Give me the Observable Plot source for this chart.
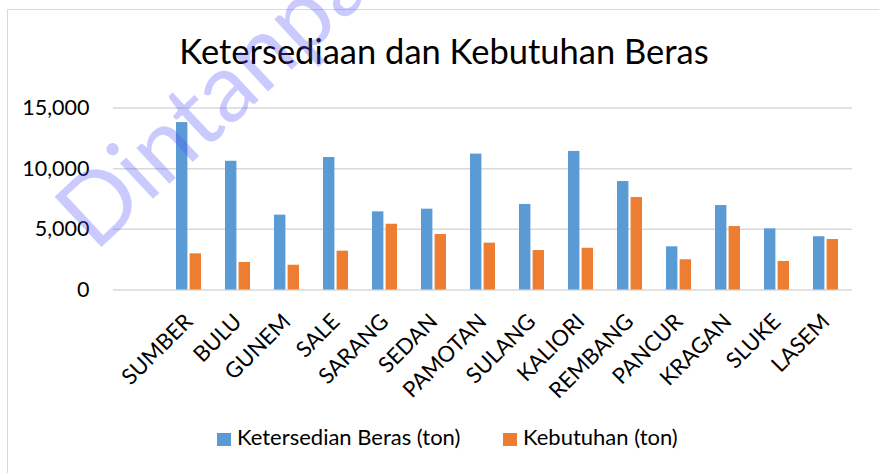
<!DOCTYPE html>
<html>
<head>
<meta charset="utf-8">
<script src="https://cdn.jsdelivr.net/npm/d3@7"></script>
<script src="https://cdn.jsdelivr.net/npm/@observablehq/plot@0.6"></script>
<style>
  html, body { margin: 0; padding: 0; background: #fff; }
  #wrap { position: relative; width: 879px; height: 473px; overflow: hidden; font-family: Lato, "Open Sans", sans-serif; }
  #frame { position: absolute; left: 7px; top: 9px; width: 900px; height: 500px; border-top: 1.5px solid #d9d9d9; border-left: 1.5px solid #d9d9d9; }
  #title { position: absolute; left: 0; width: 888px; top: 34.4px; text-align: center; font-size: 34.5px; line-height: 34.5px; color: #000; white-space: nowrap; }
  #chart { position: absolute; left: 0; top: 90px; }
  .leg { position: absolute; top: 425.5px; font-size: 22px; line-height: 22px; color: #000; white-space: nowrap; }
  .sw { position: absolute; top: 432.5px; width: 14px; height: 13px; }
  #wm { position: absolute; left: 0; top: 0; pointer-events: none; }
</style>
</head>
<body>
<div id="wrap">
  <div id="frame"></div>
  <div id="title"></div>
  <div id="chart"></div>
  <div class="sw" id="sw1"></div><div class="leg" id="lg1"></div>
  <div class="sw" id="sw2"></div><div class="leg" id="lg2"></div>
  <svg id="wm" width="879" height="473"><text id="wmtext" font-family="Lato, sans-serif" font-size="96" fill="rgb(80,80,255)" fill-opacity="0.3"></text></svg>
</div>
<script>
const titleText = "Ketersediaan dan Kebutuhan Beras";
const categories = ["SUMBER","BULU","GUNEM","SALE","SARANG","SEDAN","PAMOTAN","SULANG","KALIORI","REMBANG","PANCUR","KRAGAN","SLUKE","LASEM"];
const seriesNames = ["Ketersedian Beras (ton)", "Kebutuhan (ton)"];
const ketersediaan = [13800, 10610, 6170, 10920, 6440, 6660, 11200, 7050, 11420, 8940, 3560, 6960, 5040, 4390];
const kebutuhan = [2980, 2270, 2040, 3200, 5420, 4570, 3860, 3250, 3440, 7620, 2490, 5230, 2350, 4160];
const yTicks = [0, 5000, 10000, 15000];
const colors = ["#5B9BD5", "#ED7D31"];
const watermark = "Dintanpangan Rembang";

document.getElementById("title").textContent = titleText;
document.getElementById("lg1").textContent = seriesNames[0];
document.getElementById("lg2").textContent = seriesNames[1];
const sw1 = document.getElementById("sw1"), sw2 = document.getElementById("sw2");
sw1.style.left = "216.5px"; sw1.style.background = colors[0];
sw2.style.left = "503px"; sw2.style.background = colors[1];
document.getElementById("lg1").style.left = "237px";
document.getElementById("lg2").style.left = "523px";

const wm = document.getElementById("wmtext");
wm.textContent = watermark;
wm.setAttribute("x", 95); wm.setAttribute("y", 253);
wm.setAttribute("transform", "rotate(-43 95 253)");

const dataA = categories.map((c, i) => ({cat: c, value: ketersediaan[i]}));
const dataB = categories.map((c, i) => ({cat: c, value: kebutuhan[i]}));

const chart = Plot.plot({
  width: 879,
  height: 320,
  marginLeft: 113,
  marginRight: 27.3,
  marginTop: 17.5,
  marginBottom: 120.5,
  style: {fontFamily: "Lato, sans-serif", background: "transparent", color: "#000"},
  x: {domain: categories, type: "band", padding: 0, insetLeft: 49},
  y: {domain: [0, 15000]},
  marks: [
    Plot.ruleY(yTicks, {stroke: "#d9d9d9", strokeWidth: 1.5}),
    Plot.barY(dataA, {x: "cat", y: "value", fill: colors[0], insetLeft: 12, insetRight: 25.6}),
    Plot.barY(dataB, {x: "cat", y: "value", fill: colors[1], insetLeft: 25.6, insetRight: 12}),
    Plot.axisY({ticks: yTicks, tickFormat: d3.format(","), tickSize: 0, tickPadding: 24, fontSize: 21.5, label: null}),
    Plot.axisX({tickRotate: -45, tickSize: 0, tickPadding: 28, fontSize: 22, label: null})
  ]
});
document.getElementById("chart").appendChild(chart);
</script>
</body>
</html>
